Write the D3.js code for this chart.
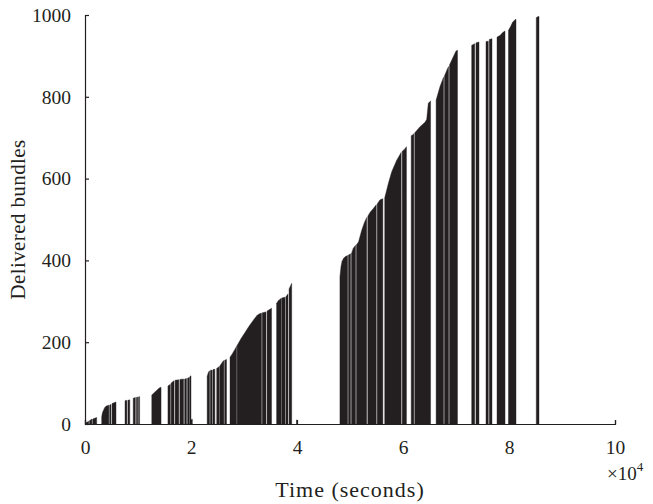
<!DOCTYPE html>
<html>
<head>
<meta charset="utf-8">
<script src="https://cdn.jsdelivr.net/npm/d3@7"></script>
<style>
  html, body { margin: 0; padding: 0; background: #fff; }
  svg { display: block; }
  text { font-family: "Liberation Serif", "Times New Roman", serif; fill: #231f20; }
</style>
</head>
<body>
<svg id="chart" width="653" height="504"></svg>
<script>
// ---- data: time in units of 10^4 s, value = cumulative delivered bundles ----
// each burst is a run of deliveries close enough to merge into one dark block
const bursts = [
  [[0.02,3],[0.07,7]],
  [[0.085,8],[0.13,12]],
  [[0.145,12],[0.22,16]],
  [[0.315,18],[0.33,28],[0.37,40],[0.40,44],[0.45,46]],
  [[0.465,46],[0.49,48]],
  [[0.51,50],[0.585,54]],
  [[0.755,57],[0.79,58]],
  [[0.81,58],[0.845,59]],
  [[0.91,63],[0.95,65]],
  [[0.97,65],[0.995,66]],
  [[1.01,66],[1.03,67]],
  [[1.26,71],[1.30,76],[1.35,82],[1.40,88],[1.435,90]],
  [[1.565,93],[1.61,97]],
  [[1.625,100],[1.68,106]],
  [[1.70,107],[1.77,108]],
  [[1.79,109],[1.86,110]],
  [[1.88,110],[1.915,111]],
  [[1.935,112],[1.97,114]],
  [[1.98,116],[2.0,118]],
  [[2.012,12],[2.024,12]],
  [[2.305,117],[2.33,127],[2.35,130]],
  [[2.365,131],[2.40,132]],
  [[2.415,133],[2.45,134]],
  [[2.485,136],[2.53,140]],
  [[2.54,141],[2.57,147],[2.60,153],[2.62,155]],
  [[2.635,156],[2.67,158]],
  [[2.736,163],[2.78,172],[2.83,183],[2.86,190]],
  [[2.87,192],[2.95,210],[3.0,220],[3.1,240],[3.2,258],[3.25,266],[3.3,270],[3.33,271]],
  [[3.345,272],[3.415,274]],
  [[3.435,276],[3.52,283]],
  [[3.615,295],[3.65,302],[3.70,307]],
  [[3.71,308],[3.775,310]],
  [[3.79,311],[3.83,318]],
  [[3.85,330],[3.90,344]],
  [[3.99,10],[4.002,10]],
  [[4.81,360],[4.83,385],[4.85,398],[4.88,405],[4.906,409],[4.955,412]],
  [[4.97,413],[5.01,416]],
  [[5.028,417],[5.062,430],[5.105,437]],
  [[5.122,438],[5.16,445],[5.221,474],[5.27,492],[5.315,505]],
  [[5.336,508],[5.38,518],[5.44,527],[5.495,536]],
  [[5.513,538],[5.566,548],[5.62,551]],
  [[5.655,553],[5.723,588],[5.787,617],[5.881,645],[5.965,664]],
  [[5.985,667],[6.03,672],[6.065,678]],
  [[6.155,705],[6.194,708],[6.205,710]],
  [[6.222,712],[6.321,727],[6.415,738],[6.447,745],[6.477,784],[6.52,790]],
  [[6.625,792],[6.698,825],[6.765,848]],
  [[6.782,851],[6.83,866],[6.86,874]],
  [[6.877,878],[6.949,898],[7.0,912],[7.028,914]],
  [[7.296,926],[7.353,930]],
  [[7.377,932],[7.434,934]],
  [[7.566,935],[7.609,936]],
  [[7.628,940],[7.679,942]],
  [[7.774,946],[7.83,950],[7.88,957],[7.925,961]],
  [[7.99,963],[8.03,972],[8.07,983],[8.132,990]],
  [[8.515,994],[8.566,997]]
];
const xTicks = [0, 2, 4, 6, 8, 10];
const yTicks = [0, 200, 400, 600, 800, 1000];
const xTitle = "Time (seconds)";
const yTitle = "Delivered bundles";

// ---- drawing ----
const ink = "#231f20";
const svg = d3.select("#chart");
const margin = { left: 85, right: 38, top: 15, bottom: 80 };
const W = 653, H = 504;
const x = d3.scaleLinear().domain([0, 10]).range([margin.left, W - margin.right]);
const y = d3.scaleLinear().domain([0, 1000]).range([H - margin.bottom, margin.top]);

const area = d3.area()
  .x(d => x(d[0]))
  .y0(y(0))
  .y1(d => y(d[1]));

svg.append("g")
  .selectAll("path")
  .data(bursts)
  .join("path")
  .attr("d", area)
  .attr("fill", ink)
  .attr("stroke", ink)
  .attr("stroke-width", 0.4);

const xAxis = svg.append("g")
  .attr("transform", `translate(0,${y(0)})`)
  .call(d3.axisBottom(x).tickValues(xTicks).tickSize(-4).tickPadding(16).tickFormat(d3.format("d")));
const yAxis = svg.append("g")
  .attr("transform", `translate(${x(0)},0)`)
  .call(d3.axisLeft(y).tickValues(yTicks).tickSize(-4).tickPadding(14).tickFormat(d3.format("d")));

[xAxis, yAxis].forEach(g => {
  g.select(".domain").attr("stroke", ink).attr("stroke-width", 1.2);
  g.selectAll(".tick line").attr("stroke", ink).attr("stroke-width", 1.2);
  g.selectAll(".tick text").attr("font-size", 19.5).style("fill", ink);
  g.attr("font-family", null).attr("font-size", null);
});

// exponent label
const exp = svg.append("text")
  .attr("x", 607)
  .attr("y", 480)
  .attr("font-size", 19);
exp.append("tspan").text("×10");
exp.append("tspan").attr("dy", -9).attr("font-size", 13).text("4");

svg.append("text")
  .attr("x", (x(0) + x(10)) / 2)
  .attr("y", 497)
  .attr("text-anchor", "middle")
  .attr("font-size", 22)
  .attr("letter-spacing", 1)
  .text(xTitle);

svg.append("text")
  .attr("transform", `translate(25,${(y(0) + y(1000)) / 2}) rotate(-90)`)
  .attr("text-anchor", "middle")
  .attr("font-size", 21)
  .attr("letter-spacing", 0.4)
  .text(yTitle);
</script>
</body>
</html>
